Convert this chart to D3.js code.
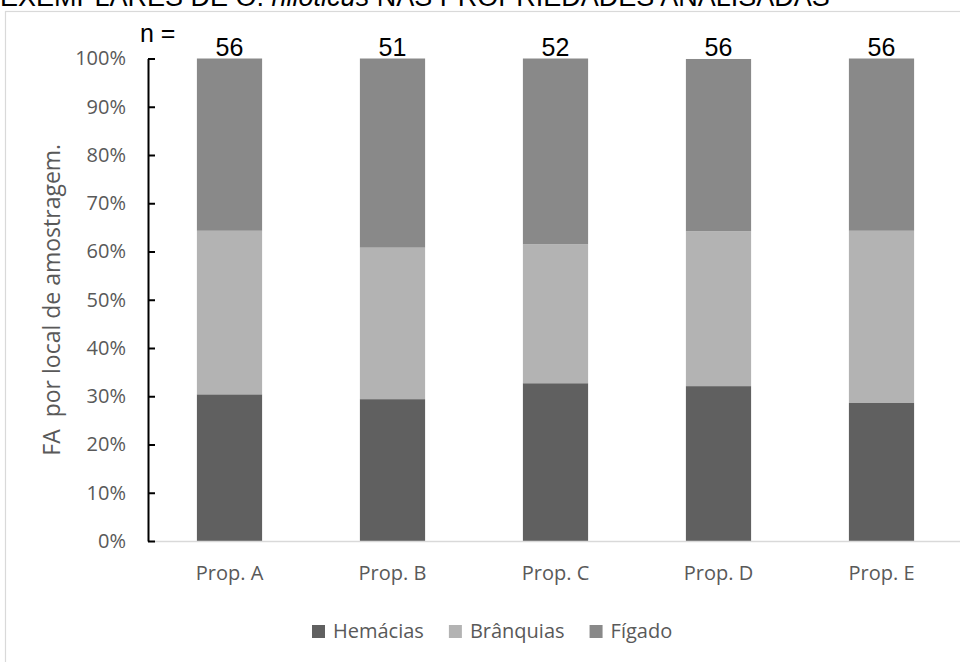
<!DOCTYPE html>
<html>
<head>
<meta charset="utf-8">
<script src="https://cdn.jsdelivr.net/npm/d3@7"></script>
<style>
  html, body { margin: 0; padding: 0; background: #fff; }
  svg { display: block; }
</style>
</head>
<body>
<svg id="chart" width="960" height="662"></svg>
<script>
// ---- data ----
const categories = ["Prop. A", "Prop. B", "Prop. C", "Prop. D", "Prop. E"];
const nValues = [56, 51, 52, 56, 56];
const seriesNames = ["Hemácias", "Brânquias", "Fígado"];
const hemacias = [30.4, 29.4, 32.7, 32.1, 28.6];
const branquias = [33.9, 31.4, 28.8, 32.1, 35.7];
const figado = [35.7, 39.2, 38.5, 35.7, 35.7];
const yTicks = [0, 10, 20, 30, 40, 50, 60, 70, 80, 90, 100];
const colors = ["#606060", "#b3b3b3", "#898989"];

const svg = d3.select("#chart");
const W = 960, H = 662;
const plot = { left: 148, right: 963, top: 58.5, bottom: 541 };

// frame
svg.append("rect").attr("x", 5.5).attr("y", 11.5).attr("width", 1000).attr("height", 700)
  .attr("fill", "#fff").attr("stroke", "#d9d9d9").attr("stroke-width", 1.2);

// title (cut off at top)
const title = svg.append("text").attr("x", 0).attr("y", 6)
  .attr("font-family", "Liberation Sans, Arial, sans-serif").attr("font-size", 27).attr("fill", "#000");
title.append("tspan").text("EXEMPLARES DE O. ");
title.append("tspan").attr("font-style", "italic").text("niloticus");
title.append("tspan").text(" NAS PROPRIEDADES ANALISADAS");

const x = d3.scaleBand().domain(categories).range([plot.left, plot.right])
  .paddingInner(0.6).paddingOuter(0.3);
const y = d3.scaleLinear().domain([0, 100]).range([plot.bottom, plot.top]);

// stacked data
const rows = categories.map((c, i) => ({ cat: c, "Hemácias": hemacias[i], "Brânquias": branquias[i], "Fígado": figado[i] }));
const stack = d3.stack().keys(seriesNames)(rows);

svg.append("g").selectAll("g").data(stack).join("g")
  .attr("fill", (d, i) => colors[i])
  .selectAll("rect").data(d => d).join("rect")
  .attr("x", d => x(d.data.cat))
  .attr("width", x.bandwidth())
  .attr("y", d => y(d[1]))
  .attr("height", d => y(d[0]) - y(d[1]));

// x baseline
svg.append("line").attr("x1", plot.left).attr("x2", W).attr("y1", plot.bottom + 0.5).attr("y2", plot.bottom + 0.5)
  .attr("stroke", "#d9d9d9").attr("stroke-width", 1.5);

// y axis
const yAxis = d3.axisLeft(y).tickValues(yTicks).tickFormat(d => d + "%")
  .tickSizeInner(-7).tickSizeOuter(0).tickPadding(22);
const gy = svg.append("g").attr("transform", `translate(${plot.left},0)`).call(yAxis);
gy.select(".domain").attr("stroke", "#000").attr("stroke-width", 2);
gy.selectAll(".tick line").attr("stroke", "#000").attr("stroke-width", 2);
gy.selectAll(".tick text").attr("font-family", "Open Sans, sans-serif").attr("font-size", 20)
  .attr("fill", "#595959");

// y title
svg.append("text").attr("transform", `translate(60,${(plot.top + plot.bottom) / 2}) rotate(-90)`)
  .attr("text-anchor", "middle").attr("font-family", "Open Sans, sans-serif").attr("font-size", 23)
  .attr("fill", "#595959").attr("xml:space", "preserve").text("FA  por local de amostragem.");

// x labels
svg.append("g").selectAll("text").data(categories).join("text")
  .attr("x", d => x(d) + x.bandwidth() / 2).attr("y", 580)
  .attr("text-anchor", "middle").attr("font-family", "Open Sans, sans-serif").attr("font-size", 20)
  .attr("fill", "#595959").text(d => d);

// n labels
svg.append("text").attr("x", 140).attr("y", 42).attr("font-family", "Liberation Sans, Arial, sans-serif")
  .attr("font-size", 25).attr("fill", "#000").text("n =");
svg.append("g").selectAll("text").data(categories).join("text")
  .attr("x", d => x(d) + x.bandwidth() / 2).attr("y", 56)
  .attr("text-anchor", "middle").attr("font-family", "Liberation Sans, Arial, sans-serif")
  .attr("font-size", 25).attr("fill", "#000").text((d, i) => nValues[i]);

// legend
const legend = svg.append("g");
let lx = 312;
seriesNames.forEach((s, i) => {
  legend.append("rect").attr("x", lx).attr("y", 625).attr("width", 13).attr("height", 13).attr("fill", colors[i]);
  const t = legend.append("text").attr("x", lx + 21).attr("y", 638)
    .attr("font-family", "Open Sans, sans-serif").attr("font-size", 20).attr("fill", "#595959").text(s);
  lx += 21 + t.node().getComputedTextLength() + 25;
});
</script>
</body>
</html>
